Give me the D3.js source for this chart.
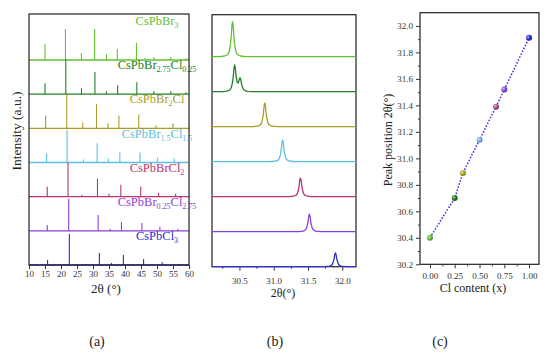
<!DOCTYPE html>
<html>
<head>
<meta charset="utf-8">
<script src="https://cdn.jsdelivr.net/npm/d3@7"></script>
<style>
body{margin:0;background:#fff;}
svg text{font-family:"Liberation Serif","Times New Roman",Times,"DejaVu Serif",serif !important;fill:#222;}
</style>
</head>
<body>
<div id="chart"></div>
<script>
// ---- data ----
// sample names as [text, isSubscript] pieces, top to bottom
var sampleLabels = [
    [["CsPbBr",0],["3",1]],
    [["CsPbBr",0],["2.75",1],["Cl",0],["0.25",1]],
    [["CsPbBr",0],["2",1],["Cl",0]],
    [["CsPbBr",0],["1.5",1],["Cl",0],["1.5",1]],
    [["CsPbBrCl",0],["2",1]],
    [["CsPbBr",0],["0.25",1],["Cl",0],["2.75",1]],
    [["CsPbCl",0],["3",1]]
];
var sampleColors = ["#62c233","#22802a","#a99d27","#5cc0e4","#b8346f","#8b40e0","#2f2fcf"];

// panel (a): reflection angles and relative intensities
var xrdAngles = [
    [15.0,21.4,26.4,30.5,34.2,37.6,43.6,46.3,49.0,54.3,59.0],
    [15.0,21.5,26.4,30.6,34.2,37.7,43.7,49.0,54.3,59.0],
    [15.2,21.8,26.8,31.1,34.7,38.1,44.3,49.7,55.0],
    [15.5,21.9,27.0,31.3,34.8,38.4,44.7,50.2,55.4],
    [15.7,22.2,26.5,31.4,35.0,38.7,44.9,50.5,55.8],
    [15.7,22.4,31.6,35.4,38.9,45.3,50.9,56.5],
    [15.8,22.6,27.8,32.0,35.8,39.5,45.8,51.6,56.9]
];
var xrdIntensity = [
    [48,94,21,94,18,33,52,6,9,9,6],
    [33,106,18,67,9,27,36,9,9,6],
    [39,106,18,73,15,39,42,9,15],
    [27,99,9,58,12,30,30,15,12],
    [30,103,6,55,9,36,30,12,9],
    [18,97,48,6,27,24,12,6],
    [15,94,3,36,6,30,18,9,3]
];
var xrdTicks = [10,15,20,25,30,35,40,45,50,55,60];

// panel (b): peak centres and heights in the zoomed range
var peakCenters = [[30.40],[30.43,30.51],[30.87],[31.13],[31.39],[31.52],[31.90]];
var peakHeights = [[106],[79,39],[72],[66],[57],[54],[42]];
// normalised peak profile (offset in degrees, fraction of height)
var profileOffset = [-0.20,-0.12,-0.08,-0.05,-0.035,-0.02,-0.01,0,0.01,0.02,0.035,0.05,0.08,0.12,0.20];
var profileShape  = [0,0.02,0.05,0.14,0.3,0.56,0.86,1,0.86,0.56,0.3,0.14,0.05,0.02,0];
var zoomTicks = [30.5,31.0,31.5,32.0];
var zoomMinor = [30.25,30.75,31.25,31.75];

// panel (c): peak position vs Cl content
var clContent = [0,0.25,0.333,0.5,0.667,0.75,1.0];
var peakPosition = [30.40,30.70,30.89,31.14,31.39,31.52,31.91];
var pointColors = ["#66c43a","#2f7a22","#b4ad2a","#7fb4ec","#b0508a","#8a48e6","#2a2ae0"];
var clTicks = [0,0.25,0.5,0.75,1.0];
var clMinor = [0.125,0.375,0.625,0.875];
var posTicks = [30.2,30.4,30.6,30.8,31.0,31.2,31.4,31.6,31.8,32.0];
var posMinor = [30.3,30.5,30.7,30.9,31.1,31.3,31.5,31.7,31.9];

// ---- drawing ----
var serif = "'Liberation Serif','Times New Roman',Times,'DejaVu Serif',serif";
var svg = d3.select("#chart").append("svg")
    .attr("width",550)
    .attr("height",358)
    .attr("font-family",serif);

var defs = svg.append("defs");

/**
 * writes a chemical formula with subscripts into a text element
 */
function writeFormula(textSel, parts){
    parts.forEach(function(p){
        var t = textSel.append("tspan").text(p[0]);
        if (p[1]){
            t.attr("font-size",8).attr("dy",3);
        } else {
            t.attr("dy", textSel.selectAll("tspan").size() > 1 ? -3 : 0);
        }
    });
}

/**
 * draws major and minor bottom ticks with labels
 */
function bottomAxis(g, scale, y, major, minor, fmt, labelDy){
    var ax = g.append("g").attr("transform","translate(0,"+y+")")
        .call(d3.axisBottom(scale).tickValues(major).tickSize(4).tickSizeOuter(0).tickFormat(fmt))
        .attr("font-family",serif);
    ax.select(".domain").remove();
    ax.selectAll("text").attr("font-size",9).attr("dy",labelDy).style("fill","#333");
    ax.selectAll("line").attr("stroke","#333");
    if (minor){
        var mx = g.append("g").attr("transform","translate(0,"+y+")")
            .call(d3.axisBottom(scale).tickValues(minor).tickSize(2).tickFormat(""));
        mx.select(".domain").remove();
        mx.selectAll("line").attr("stroke","#333");
    }
}

function frame(g, x0, y0, x1, y1){
    g.append("rect")
        .attr("x",x0).attr("y",y0)
        .attr("width",x1-x0).attr("height",y1-y0)
        .attr("fill","none")
        .attr("stroke","#222")
        .attr("stroke-width",1.2);
}

// ---------- panel (a) ----------
var pa = {left:29, right:189, top:14, bottom:265};
var ga = svg.append("g");
var xA = d3.scaleLinear().domain([10,60]).range([pa.left,pa.right]);
var baseA = d3.scaleLinear().domain([0,6]).range([60,pa.bottom]);
var hA = d3.scaleLinear().domain([0,100]).range([0,33]);

sampleLabels.forEach(function(lab,i){
    var b = baseA(i);
    ga.append("line")
        .attr("x1",pa.left).attr("x2",pa.right)
        .attr("y1",b).attr("y2",b)
        .attr("stroke",sampleColors[i]).attr("stroke-width",1.3);
    ga.selectAll(".stick"+i)
        .data(xrdAngles[i])
        .enter().append("line")
        .attr("class","stick"+i)
        .attr("x1",function(d){return xA(d);})
        .attr("x2",function(d){return xA(d);})
        .attr("y1",b)
        .attr("y2",function(d,j){return b - hA(xrdIntensity[i][j]);})
        .attr("stroke",sampleColors[i]).attr("stroke-width",1.1);

    var t = ga.append("text")
        .attr("x",157)
        .attr("y", i == 0 ? 25 : b - 25)
        .attr("text-anchor","middle")
        .attr("font-size",12.5)
        .style("fill",sampleColors[i]);
    writeFormula(t, lab);
});
frame(ga, pa.left, pa.top, pa.right, pa.bottom);
bottomAxis(ga, xA, pa.bottom, xrdTicks, null, d3.format("d"), "0.6em");

ga.append("text")
    .attr("transform","translate(21,131) rotate(-90)")
    .attr("text-anchor","middle")
    .attr("font-size",13.5)
    .text("Intensity (a.u.)");
ga.append("text")
    .attr("x",106).attr("y",293)
    .attr("text-anchor","middle")
    .attr("font-size",13)
    .text("2\u03b8 (\u00b0)");
ga.append("text")
    .attr("x",97).attr("y",346)
    .attr("text-anchor","middle")
    .attr("font-size",14)
    .text("(a)");

// ---------- panel (b) ----------
var pb = {left:212, right:356, top:14.7, bottom:266.7};
var gb = svg.append("g");
var xB = d3.scaleLinear().domain([30.1,32.2]).range([pb.left,pb.right]);
var baseB = d3.scaleLinear().domain([0,6]).range([56.7,pb.bottom]);
var hB = d3.scaleLinear().domain([0,100]).range([0,33]);
var profile = d3.scaleLinear().domain(profileOffset).range(profileShape).clamp(true);

frame(gb, pb.left, pb.top, pb.right, pb.bottom);
bottomAxis(gb, xB, pb.bottom, zoomTicks, zoomMinor, d3.format(".1f"), "1.1em");

var lineB = d3.line()
    .x(function(d){return xB(d[0]);})
    .y(function(d){return d[1];})
    .curve(d3.curveMonotoneX);

peakCenters.forEach(function(centers,i){
    var b = baseB(i);
    var xs = [30.1,32.2];
    centers.forEach(function(c){
        profileOffset.forEach(function(o){ xs.push(c+o); });
    });
    xs = xs.filter(function(x){return x>=30.1 && x<=32.2;}).sort(d3.ascending);
    var pts = xs.map(function(x){
        var h = 0;
        centers.forEach(function(c,j){ h += peakHeights[i][j]*profile(x-c); });
        return [x, b - hB(h)];
    });
    gb.append("path")
        .attr("d",lineB(pts))
        .attr("fill","none")
        .attr("stroke",sampleColors[i])
        .attr("stroke-width",1.3);
});

gb.append("text")
    .attr("x",283).attr("y",297)
    .attr("text-anchor","middle")
    .attr("font-size",12)
    .text("2\u03b8(\u00b0)");
gb.append("text")
    .attr("x",275).attr("y",346)
    .attr("text-anchor","middle")
    .attr("font-size",14)
    .text("(b)");

// ---------- panel (c) ----------
var pc = {left:420, right:539, top:12.7, bottom:264.3};
var gc = svg.append("g");
var xC = d3.scaleLinear().domain([-0.1,1.1]).range([pc.left,pc.right]);
var yC = d3.scaleLinear().domain([30.2,32.1]).range([pc.bottom,pc.top]);

frame(gc, pc.left, pc.top, pc.right, pc.bottom);
bottomAxis(gc, xC, pc.bottom, clTicks, clMinor, d3.format(".2f"), "0.9em");

var ay = gc.append("g").attr("transform","translate("+pc.left+",0)")
    .call(d3.axisLeft(yC).tickValues(posTicks).tickSize(4).tickFormat(d3.format(".1f")))
    .attr("font-family",serif);
ay.select(".domain").remove();
ay.selectAll("text").attr("font-size",9).style("fill","#333");
ay.selectAll("line").attr("stroke","#333");
var ayMinor = gc.append("g").attr("transform","translate("+pc.left+",0)")
    .call(d3.axisLeft(yC).tickValues(posMinor).tickSize(2).tickFormat(""));
ayMinor.select(".domain").remove();
ayMinor.selectAll("line").attr("stroke","#333");

var pts = clContent.map(function(c,i){return [c, peakPosition[i]];});
gc.append("path")
    .attr("d", d3.line()
        .x(function(d){return xC(d[0]);})
        .y(function(d){return yC(d[1]);})(pts))
    .attr("fill","none")
    .attr("stroke","#3a3acc")
    .attr("stroke-width",1.5)
    .attr("stroke-dasharray","1.6,1.6");

pointColors.forEach(function(c,i){
    var grad = defs.append("radialGradient")
        .attr("id","ball"+i)
        .attr("cx","35%").attr("cy","35%").attr("r","65%");
    grad.append("stop").attr("offset","0%").attr("stop-color",d3.interpolateRgb(c,"#fff")(0.6));
    grad.append("stop").attr("offset","55%").attr("stop-color",c);
    grad.append("stop").attr("offset","100%").attr("stop-color",d3.color(c).darker(1));
});

gc.selectAll(".ball")
    .data(pts)
    .enter().append("circle")
    .attr("class","ball")
    .attr("cx",function(d){return xC(d[0]);})
    .attr("cy",function(d){return yC(d[1]);})
    .attr("r",3)
    .attr("fill",function(d,i){return "url(#ball"+i+")";});

gc.append("text")
    .attr("transform","translate(392,140) rotate(-90)")
    .attr("text-anchor","middle")
    .attr("font-size",12)
    .text("Peak position 2\u03b8(\u00b0)");
gc.append("text")
    .attr("x",473).attr("y",292)
    .attr("text-anchor","middle")
    .attr("font-size",12)
    .text("Cl content (x)");
gc.append("text")
    .attr("x",440).attr("y",346)
    .attr("text-anchor","middle")
    .attr("font-size",14)
    .text("(c)");
</script>
</body>
</html>
